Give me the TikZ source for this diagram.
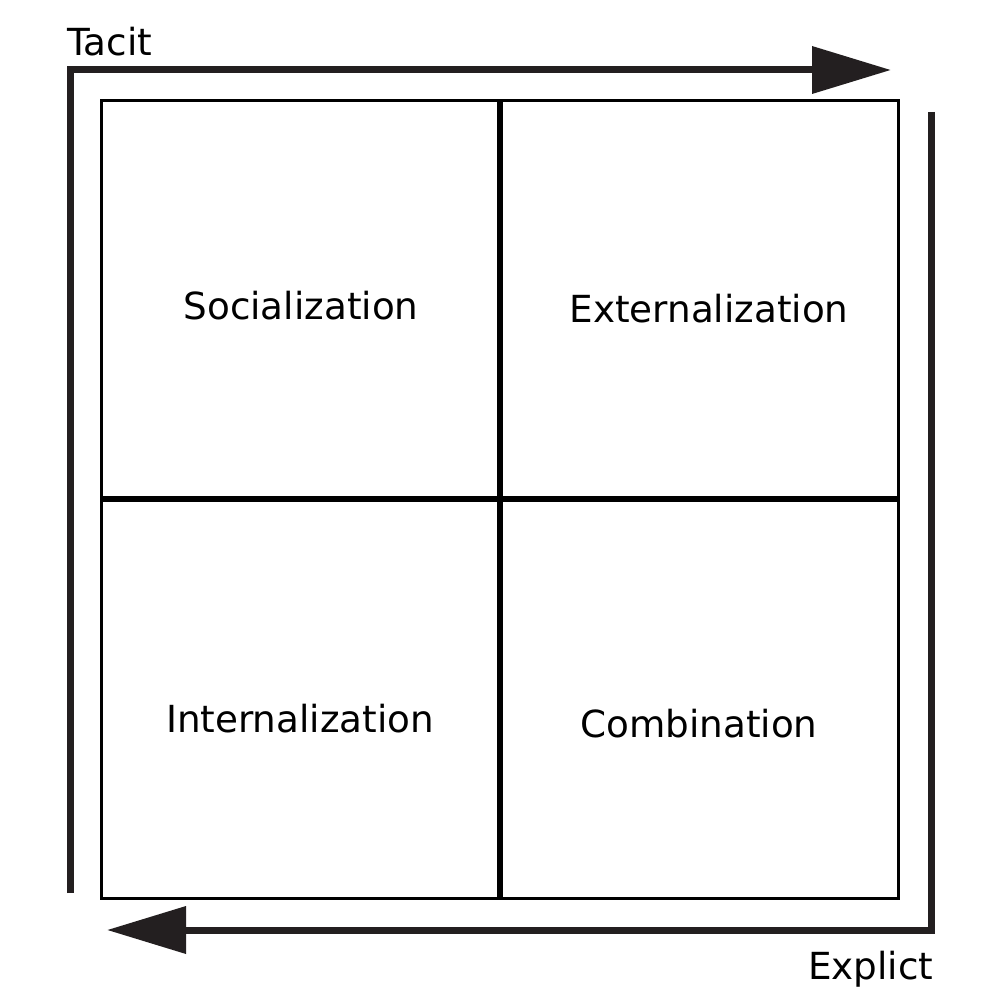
\documentclass[tikz,border=0pt]{standalone}
\usepackage{fontspec}
\setmainfont{DejaVu Sans}
\usetikzlibrary{arrows.meta}
\definecolor{arrowcol}{HTML}{231F20}
\begin{document}
\begin{tikzpicture}[x=1pt,y=-1pt,
  lbl/.style={inner sep=0pt,font=\fontsize{37.3}{40}\selectfont,text=black},
  flowarrow/.style={draw=arrowcol,line width=7pt,line join=miter,
    -{Triangle[length=79pt,width=46pt,fill=arrowcol]}},
  frame/.style={draw=black,line width=3pt},
  divider/.style={draw=black,line width=6pt}]
\useasboundingbox[fill=white] (0,0) rectangle (1000,1000);
% frame and dividers
\coordinate (bnw) at (101,101);
\coordinate (bse) at (898,898);
\draw[frame] (bnw) rectangle (bse);
\coordinate (vt) at (500,101);
\coordinate (vb) at (500,898);
\coordinate (hl) at (101,499);
\coordinate (hr) at (898,499);
\draw[divider] (vt) -- (vb);
\draw[divider] (hl) -- (hr);
% arrows
\coordinate (tstart) at (70,893);
\coordinate (ttip) at (891,70);
\draw[flowarrow] (tstart) |- (ttip);
\coordinate (estart) at (931,112);
\coordinate (etip) at (107,930);
\draw[flowarrow] (estart) |- (etip);
% labels
\node[lbl,anchor=base west] (tacit) at (67,56) {Tacit};
\node[lbl,anchor=base west] (explict) at (808,979) {Explict};
\node[lbl,anchor=base] (soc) at (301,319) {Socialization};
\node[lbl,anchor=base] (ext) at (709,322) {Externalization};
\node[lbl,anchor=base] (int) at (300,732) {Internalization};
\node[lbl,anchor=base] (comb) at (699,737) {Combination};
\end{tikzpicture}
\end{document}
